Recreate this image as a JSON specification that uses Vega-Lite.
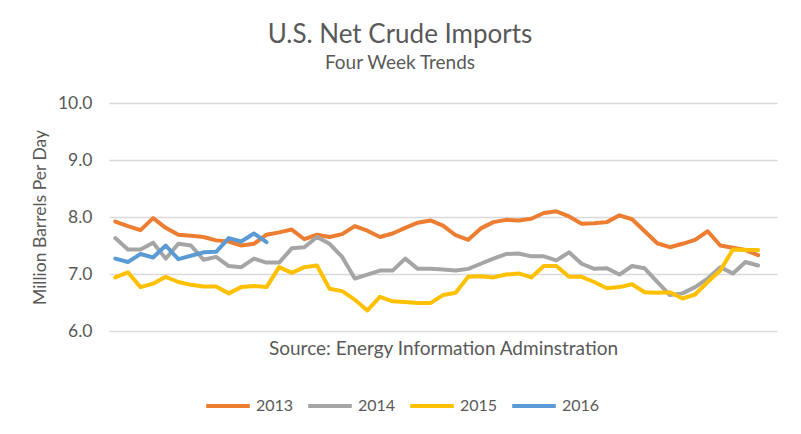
{
  "$schema": "https://vega.github.io/schema/vega-lite/v6.json",
  "width": 668,
  "height": 228,
  "autosize": {"type": "none"},
  "padding": {"left": 109, "top": 103, "right": 24, "bottom": 103},
  "background": "white",
  "title": {
    "text": "U.S. Net Crude Imports",
    "subtitle": "Four Week Trends",
    "anchor": "middle",
    "frame": "group",
    "dx": -43,
    "offset": 21,
    "font": "Lato",
    "fontSize": 26,
    "fontWeight": "normal",
    "color": "#595959",
    "subtitleFont": "Lato",
    "subtitleFontSize": 19,
    "subtitleColor": "#595959",
    "subtitlePadding": 6
  },
  "data": {
    "values": [
      {"week":1,"year":"2013","value":7.92},{"week":2,"year":"2013","value":7.84},{"week":3,"year":"2013","value":7.77},{"week":4,"year":"2013","value":7.98},{"week":5,"year":"2013","value":7.81},{"week":6,"year":"2013","value":7.69},{"week":7,"year":"2013","value":7.67},{"week":8,"year":"2013","value":7.65},{"week":9,"year":"2013","value":7.59},{"week":10,"year":"2013","value":7.57},
      {"week":11,"year":"2013","value":7.50},{"week":12,"year":"2013","value":7.53},{"week":13,"year":"2013","value":7.69},{"week":14,"year":"2013","value":7.73},{"week":15,"year":"2013","value":7.78},{"week":16,"year":"2013","value":7.61},{"week":17,"year":"2013","value":7.69},{"week":18,"year":"2013","value":7.65},{"week":19,"year":"2013","value":7.70},{"week":20,"year":"2013","value":7.84},
      {"week":21,"year":"2013","value":7.76},{"week":22,"year":"2013","value":7.65},{"week":23,"year":"2013","value":7.71},{"week":24,"year":"2013","value":7.81},{"week":25,"year":"2013","value":7.90},{"week":26,"year":"2013","value":7.94},{"week":27,"year":"2013","value":7.85},{"week":28,"year":"2013","value":7.68},{"week":29,"year":"2013","value":7.60},{"week":30,"year":"2013","value":7.80},
      {"week":31,"year":"2013","value":7.91},{"week":32,"year":"2013","value":7.95},{"week":33,"year":"2013","value":7.94},{"week":34,"year":"2013","value":7.97},{"week":35,"year":"2013","value":8.07},{"week":36,"year":"2013","value":8.10},{"week":37,"year":"2013","value":8.01},{"week":38,"year":"2013","value":7.88},{"week":39,"year":"2013","value":7.89},{"week":40,"year":"2013","value":7.91},
      {"week":41,"year":"2013","value":8.03},{"week":42,"year":"2013","value":7.96},{"week":43,"year":"2013","value":7.75},{"week":44,"year":"2013","value":7.54},{"week":45,"year":"2013","value":7.47},{"week":46,"year":"2013","value":7.53},{"week":47,"year":"2013","value":7.60},{"week":48,"year":"2013","value":7.75},{"week":49,"year":"2013","value":7.50},{"week":50,"year":"2013","value":7.46},
      {"week":51,"year":"2013","value":7.42},{"week":52,"year":"2013","value":7.33},
      {"week":1,"year":"2014","value":7.63},{"week":2,"year":"2014","value":7.43},{"week":3,"year":"2014","value":7.43},{"week":4,"year":"2014","value":7.55},{"week":5,"year":"2014","value":7.27},{"week":6,"year":"2014","value":7.53},{"week":7,"year":"2014","value":7.50},{"week":8,"year":"2014","value":7.25},{"week":9,"year":"2014","value":7.30},{"week":10,"year":"2014","value":7.14},
      {"week":11,"year":"2014","value":7.12},{"week":12,"year":"2014","value":7.27},{"week":13,"year":"2014","value":7.20},{"week":14,"year":"2014","value":7.20},{"week":15,"year":"2014","value":7.45},{"week":16,"year":"2014","value":7.47},{"week":17,"year":"2014","value":7.65},{"week":18,"year":"2014","value":7.53},{"week":19,"year":"2014","value":7.30},{"week":20,"year":"2014","value":6.92},
      {"week":21,"year":"2014","value":6.99},{"week":22,"year":"2014","value":7.06},{"week":23,"year":"2014","value":7.06},{"week":24,"year":"2014","value":7.27},{"week":25,"year":"2014","value":7.09},{"week":26,"year":"2014","value":7.09},{"week":27,"year":"2014","value":7.08},{"week":28,"year":"2014","value":7.06},{"week":29,"year":"2014","value":7.09},{"week":30,"year":"2014","value":7.18},
      {"week":31,"year":"2014","value":7.27},{"week":32,"year":"2014","value":7.35},{"week":33,"year":"2014","value":7.36},{"week":34,"year":"2014","value":7.31},{"week":35,"year":"2014","value":7.31},{"week":36,"year":"2014","value":7.24},{"week":37,"year":"2014","value":7.38},{"week":38,"year":"2014","value":7.18},{"week":39,"year":"2014","value":7.09},{"week":40,"year":"2014","value":7.10},
      {"week":41,"year":"2014","value":6.99},{"week":42,"year":"2014","value":7.14},{"week":43,"year":"2014","value":7.10},{"week":44,"year":"2014","value":6.86},{"week":45,"year":"2014","value":6.63},{"week":46,"year":"2014","value":6.66},{"week":47,"year":"2014","value":6.77},{"week":48,"year":"2014","value":6.92},{"week":49,"year":"2014","value":7.12},{"week":50,"year":"2014","value":7.01},
      {"week":51,"year":"2014","value":7.21},{"week":52,"year":"2014","value":7.15},
      {"week":1,"year":"2015","value":6.94},{"week":2,"year":"2015","value":7.03},{"week":3,"year":"2015","value":6.77},{"week":4,"year":"2015","value":6.83},{"week":5,"year":"2015","value":6.95},{"week":6,"year":"2015","value":6.86},{"week":7,"year":"2015","value":6.81},{"week":8,"year":"2015","value":6.78},{"week":9,"year":"2015","value":6.78},{"week":10,"year":"2015","value":6.66},
      {"week":11,"year":"2015","value":6.77},{"week":12,"year":"2015","value":6.79},{"week":13,"year":"2015","value":6.77},{"week":14,"year":"2015","value":7.12},{"week":15,"year":"2015","value":7.02},{"week":16,"year":"2015","value":7.12},{"week":17,"year":"2015","value":7.15},{"week":18,"year":"2015","value":6.74},{"week":19,"year":"2015","value":6.70},{"week":20,"year":"2015","value":6.55},
      {"week":21,"year":"2015","value":6.36},{"week":22,"year":"2015","value":6.60},{"week":23,"year":"2015","value":6.52},{"week":24,"year":"2015","value":6.51},{"week":25,"year":"2015","value":6.49},{"week":26,"year":"2015","value":6.49},{"week":27,"year":"2015","value":6.63},{"week":28,"year":"2015","value":6.67},{"week":29,"year":"2015","value":6.95},{"week":30,"year":"2015","value":6.96},
      {"week":31,"year":"2015","value":6.94},{"week":32,"year":"2015","value":6.99},{"week":33,"year":"2015","value":7.01},{"week":34,"year":"2015","value":6.94},{"week":35,"year":"2015","value":7.14},{"week":36,"year":"2015","value":7.14},{"week":37,"year":"2015","value":6.95},{"week":38,"year":"2015","value":6.95},{"week":39,"year":"2015","value":6.86},{"week":40,"year":"2015","value":6.75},
      {"week":41,"year":"2015","value":6.77},{"week":42,"year":"2015","value":6.82},{"week":43,"year":"2015","value":6.68},{"week":44,"year":"2015","value":6.67},{"week":45,"year":"2015","value":6.68},{"week":46,"year":"2015","value":6.57},{"week":47,"year":"2015","value":6.64},{"week":48,"year":"2015","value":6.86},{"week":49,"year":"2015","value":7.06},{"week":50,"year":"2015","value":7.43},
      {"week":51,"year":"2015","value":7.42},{"week":52,"year":"2015","value":7.42},
      {"week":1,"year":"2016","value":7.27},{"week":2,"year":"2016","value":7.21},{"week":3,"year":"2016","value":7.35},{"week":4,"year":"2016","value":7.29},{"week":5,"year":"2016","value":7.50},{"week":6,"year":"2016","value":7.26},{"week":7,"year":"2016","value":7.32},{"week":8,"year":"2016","value":7.38},{"week":9,"year":"2016","value":7.39},{"week":10,"year":"2016","value":7.63},
      {"week":11,"year":"2016","value":7.57},{"week":12,"year":"2016","value":7.71},{"week":13,"year":"2016","value":7.56}
    ]
  },
  "mark": {"type": "line", "strokeWidth": 4, "strokeCap": "round", "strokeJoin": "round"},
  "encoding": {
    "x": {
      "field": "week",
      "type": "quantitative",
      "scale": {"domain": [0.5, 53.5], "nice": false, "zero": false},
      "axis": {
        "labels": false,
        "ticks": false,
        "domain": false,
        "grid": false,
        "title": "Source: Energy Information Adminstration",
        "titleFont": "Lato",
        "titleFontSize": 19,
        "titleFontWeight": "normal",
        "titleColor": "#595959",
        "titlePadding": 8
      }
    },
    "y": {
      "field": "value",
      "type": "quantitative",
      "scale": {"domain": [6, 10], "nice": false, "zero": false},
      "axis": {
        "values": [6, 7, 8, 9, 10],
        "format": ".1f",
        "labelFont": "Lato",
        "labelFontSize": 17.5,
        "labelColor": "#595959",
        "labelPadding": 17,
        "ticks": false,
        "domain": false,
        "grid": true,
        "gridColor": "#D9D9D9",
        "gridWidth": 1.3,
        "title": "Million Barrels Per Day",
        "titleFont": "Lato",
        "titleFontSize": 17.5,
        "titleFontWeight": "normal",
        "titleColor": "#595959",
        "titlePadding": 8
      }
    },
    "color": {
      "field": "year",
      "type": "nominal",
      "scale": {"domain": ["2013", "2014", "2015", "2016"], "range": ["#ED7D31", "#A5A5A5", "#FFC000", "#5B9BD5"]},
      "legend": {
        "title": null,
        "orient": "none",
        "legendX": 95,
        "legendY": 279,
        "direction": "horizontal",
        "symbolType": "stroke",
        "symbolStrokeWidth": 4,
        "symbolSize": 1900,
        "labelFont": "Lato",
        "labelFontSize": 16,
        "labelColor": "#595959",
        "labelOffset": 4,
        "columnPadding": 6
      }
    }
  },
  "config": {"view": {"stroke": null}}
}
